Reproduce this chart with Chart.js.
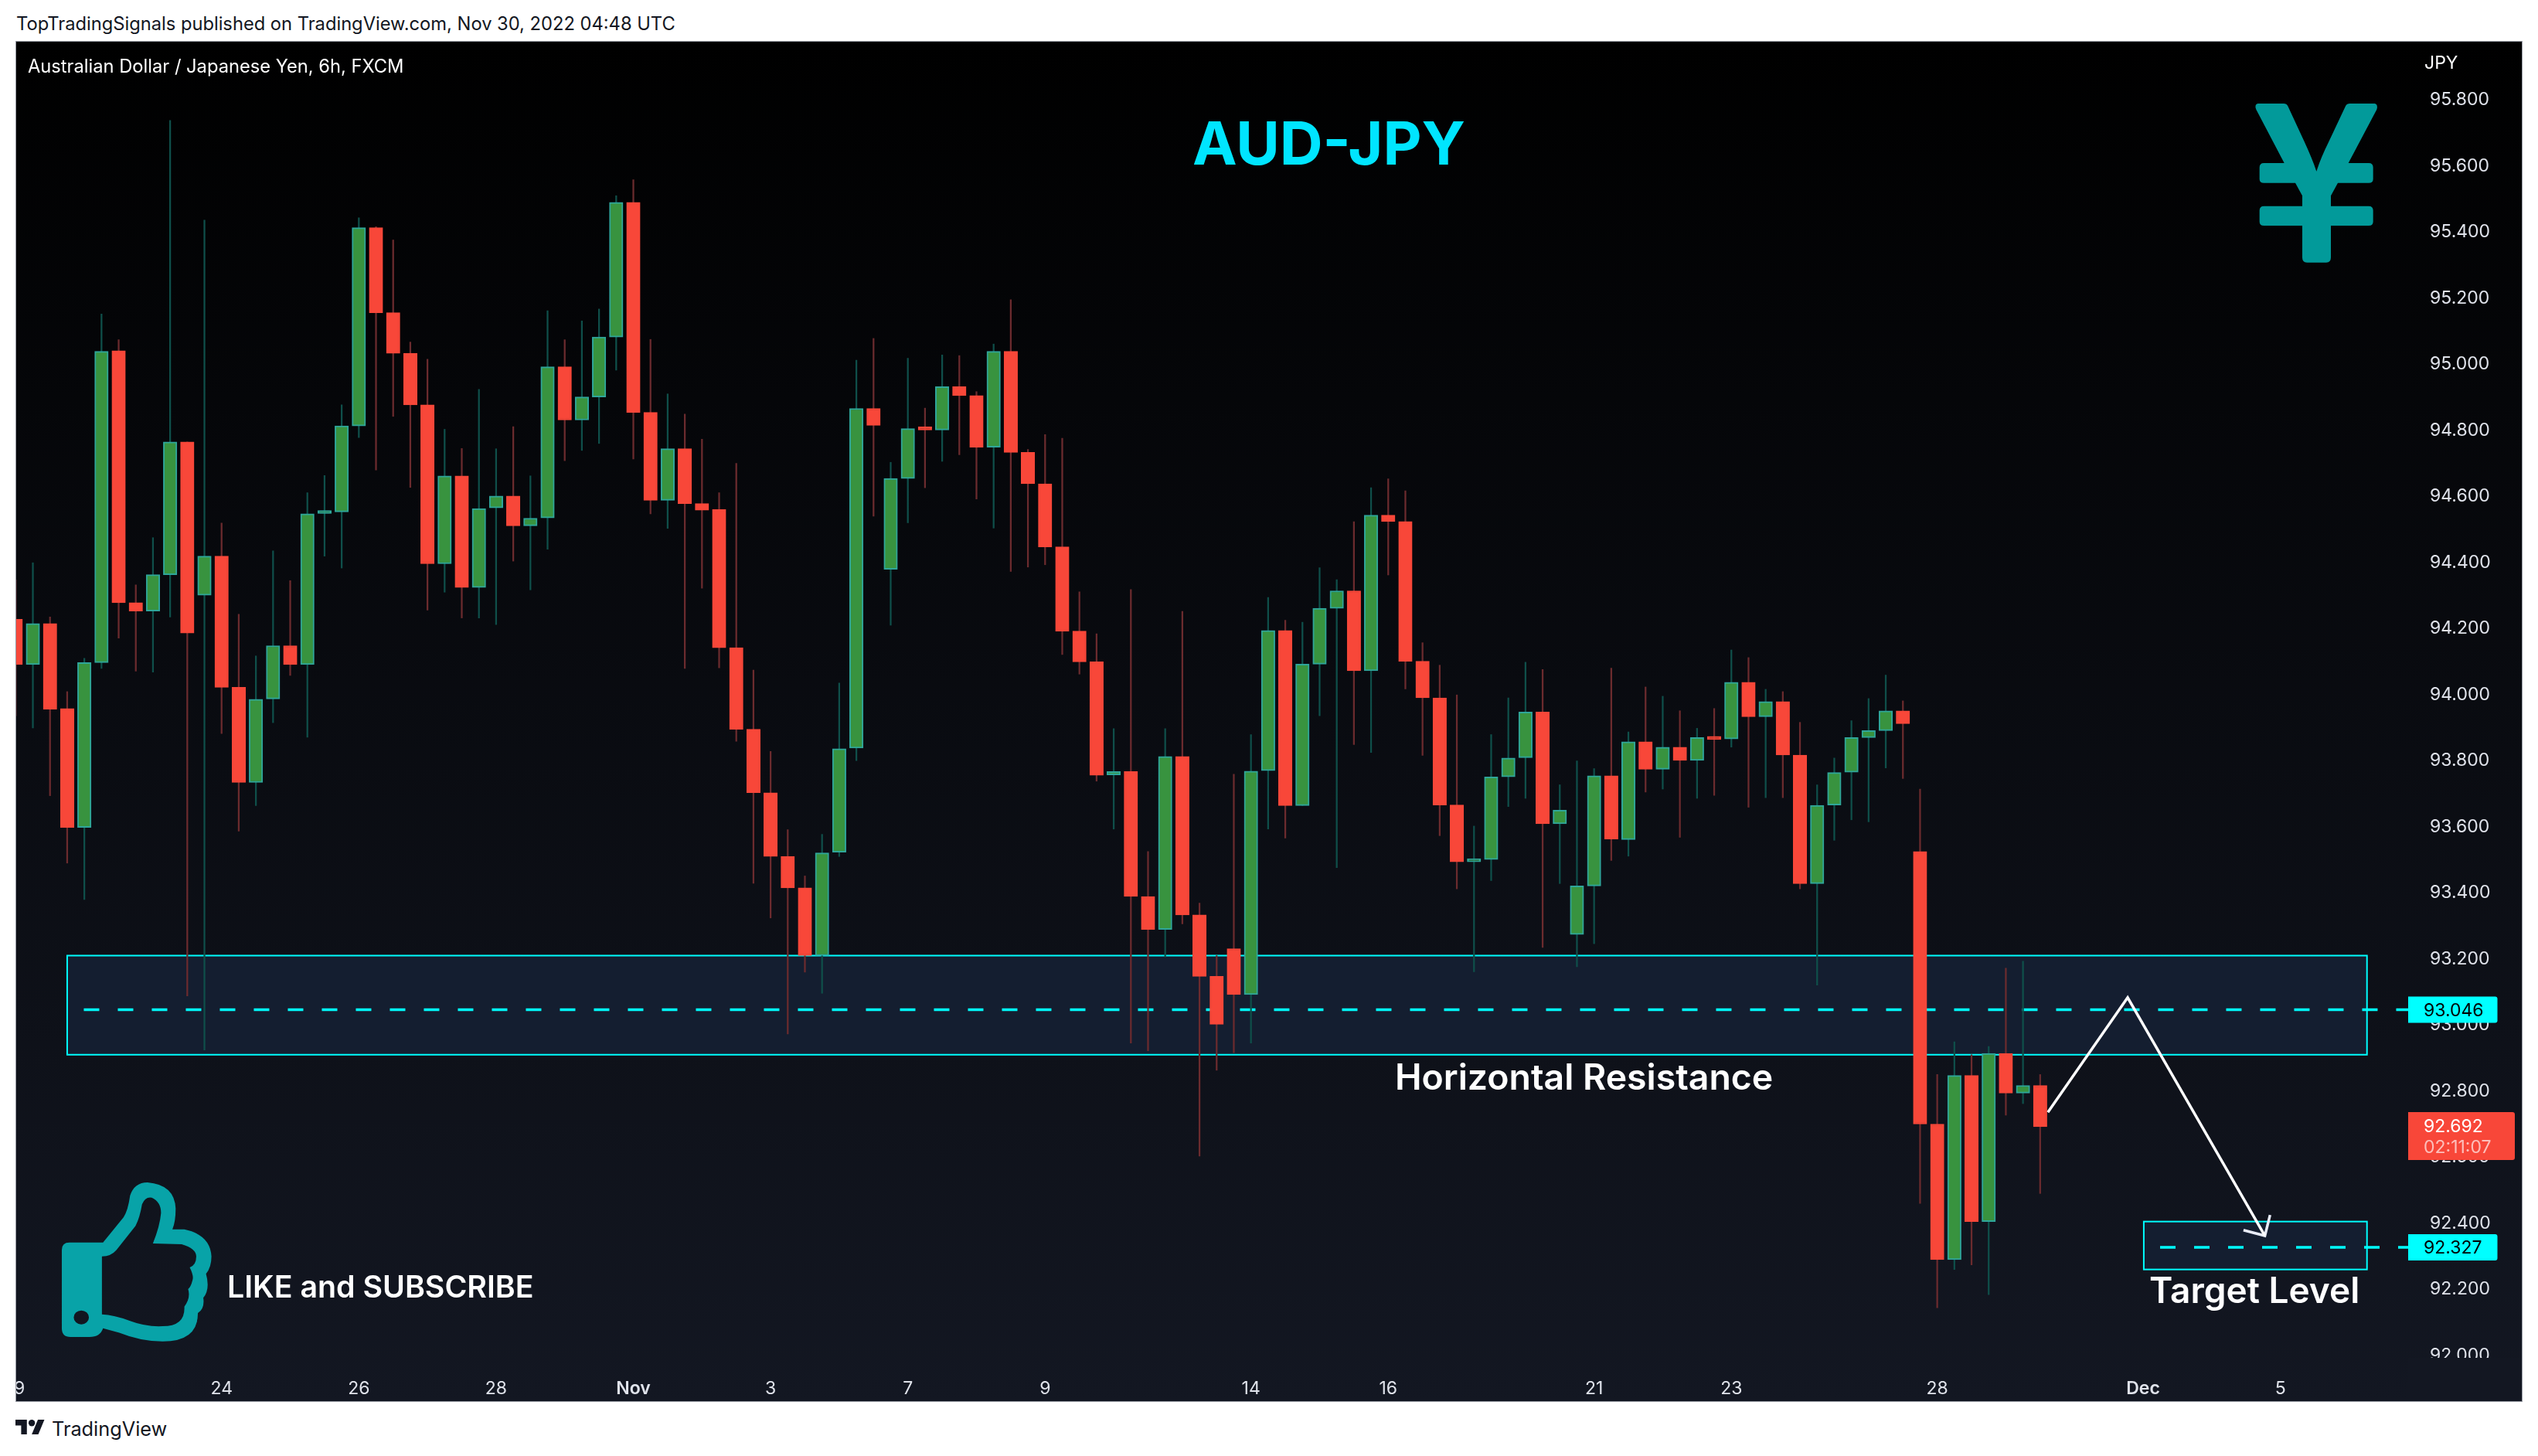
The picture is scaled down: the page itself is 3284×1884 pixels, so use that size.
<!DOCTYPE html>
<html lang="en">
<head>
  <meta charset="UTF-8" />
  <title>AUD-JPY</title>
  <script src="https://cdn.jsdelivr.net/npm/chart.js"></script>
  <style>
    html, body { margin: 0; padding: 0; background: #fff; }
    body { width: 3284px; height: 1884px; position: relative; overflow: hidden; font-family: Inter, sans-serif; }
    #frame { position: absolute; left: 20px; top: 53px; width: 3242px; height: 1759px; border: 1px solid #9598a1;
      background: linear-gradient(#000000, #131722); }
    canvas { position: absolute; left: 21px; top: 54px; }
    .txt { position: absolute; white-space: nowrap; transform: translateY(-50%); line-height: 1; }
    svg { position: absolute; }
  </style>
</head>
<body>
  <div id="frame"></div>
  <canvas id="chart" width="3241" height="1758"></canvas>

  <div class="txt" style="left:21px;top:31px;font-size:23.7px;color:#131722">TopTradingSignals published on TradingView.com, Nov 30, 2022 04:48 UTC</div>
  <div class="txt" style="left:36px;top:86px;font-size:23.7px;color:#fff">Australian Dollar / Japanese Yen, 6h, FXCM</div>
  <div class="txt" style="left:3137px;top:81px;font-size:23px;color:#fff">JPY</div>
  <div class="txt" style="left:1543px;top:186px;font-size:77.3px;font-weight:700;color:#00e5ff">AUD-JPY</div>
  <div class="txt" style="left:1805px;top:1393px;font-size:46.4px;font-weight:600;color:#fff">Horizontal Resistance</div>
  <div class="txt" style="left:2781px;top:1669px;font-size:46px;font-weight:600;color:#fff">Target Level</div>
  <div class="txt" style="left:294px;top:1665px;font-size:39.3px;font-weight:600;color:#fff">LIKE and SUBSCRIBE</div>
  <div class="txt" style="left:67px;top:1849px;font-size:25.3px;color:#131722">TradingView</div>

  <!-- yen sign -->
  <svg style="left:2800px;top:40px" width="484" height="400" viewBox="0 0 1452 1200">
    <path fill="#029a9a" d="M365 282 L465 282 Q476 282 481 292 L545 430 Q575 495 592 545 Q610 490 640 430 L705 292 Q710 282 722 282 L818 282 Q832 285 826 305 L716 513 L795 513 Q812 513 812 530 L812 575 Q812 590 795 590 L675 590 L648 640 L648 680 L795 680 Q812 680 812 697 L812 740 Q812 756 795 756 L648 756 L648 880 Q648 899 630 899 L555 899 Q537 899 537 880 L537 756 L388 756 Q371 756 371 740 L371 697 Q371 680 388 680 L537 680 L537 640 L510 590 L388 590 Q371 590 371 575 L371 530 Q371 513 388 513 L467 513 L358 305 Q350 285 365 282 Z"/>
  </svg>
  <!-- thumb -->
  <svg style="left:0;top:1000px" width="1100" height="884" viewBox="0 0 1568 1568" preserveAspectRatio="none">
    <path fill="#08a3a8" fill-rule="evenodd" d="M128 1078 L190 1078 L228 1020 Q236 1005 240 970 Q248 940 272 940 Q322 945 324 1000 Q324 1030 318 1048 L340 1048 Q388 1060 390 1110 Q390 1135 380 1150 Q388 1185 375 1205 Q378 1230 365 1240 Q365 1305 300 1305 Q260 1305 220 1285 L190 1275 Q185 1295 165 1295 L130 1295 Q114 1295 114 1275 L114 1095 Q114 1078 128 1078 Z
      M188 1110 Q205 1110 215 1095 L250 1040 Q258 1020 262 990 Q268 972 280 975 Q297 985 297 1010 Q295 1040 282 1080 L335 1082 Q362 1092 362 1110 Q362 1130 350 1135 Q358 1155 355 1165 Q352 1180 347 1185 Q352 1205 340 1225 Q342 1270 300 1270 Q270 1272 240 1258 Q210 1244 188 1243 Z
      M136 1250 A14 16 0 1 0 164 1250 A14 16 0 1 0 136 1250 Z"/>
  </svg>
  <!-- tradingview mark -->
  <svg style="left:20px;top:1837px" width="38" height="19" viewBox="0 4 36 18">
    <path fill="#131722" d="M14 22H7V11H0V4h14v18z M28 22h-8l7.5-18h8L28 22z"/>
    <circle fill="#131722" cx="20" cy="8" r="4"/>
  </svg>

  <script>
    const opens = [94.228,94.091,94.215,93.958,93.598,94.097,95.041,94.278,94.253,94.363,94.765,94.301,94.419,94.022,93.734,93.987,94.148,94.091,94.548,94.553,94.813,95.413,95.156,95.033,94.877,94.396,94.662,94.324,94.565,94.601,94.511,94.535,94.992,94.831,94.901,95.082,95.490,94.854,94.588,94.744,94.578,94.560,94.142,93.895,93.703,93.510,93.415,93.210,93.523,93.838,94.866,94.379,94.654,94.805,94.801,94.932,94.905,94.749,95.039,94.733,94.638,94.447,94.192,94.099,93.757,93.767,93.389,93.289,93.813,93.333,93.147,93.231,93.092,93.770,94.194,93.664,94.092,94.261,94.314,94.072,94.543,94.524,94.101,93.990,93.666,93.494,93.501,93.751,93.809,93.947,93.609,93.274,93.421,93.754,93.561,93.857,93.774,93.841,93.801,93.870,93.866,94.037,93.933,93.979,93.817,93.428,93.666,93.765,93.870,93.891,93.951,93.525,92.700,92.290,92.847,92.405,92.914,92.794,92.817];
    const closes = [94.091,94.215,93.956,93.598,94.097,95.039,94.278,94.253,94.363,94.765,94.186,94.419,94.022,93.734,93.986,94.148,94.091,94.547,94.553,94.813,95.413,95.156,95.033,94.877,94.396,94.662,94.324,94.563,94.601,94.511,94.534,94.992,94.831,94.901,95.082,95.490,94.854,94.588,94.744,94.578,94.558,94.142,93.895,93.703,93.510,93.415,93.210,93.521,93.836,94.866,94.815,94.654,94.805,94.801,94.932,94.905,94.749,95.039,94.733,94.638,94.447,94.192,94.099,93.756,93.767,93.389,93.289,93.813,93.333,93.147,93.002,93.092,93.768,94.194,93.664,94.092,94.261,94.314,94.072,94.543,94.524,94.101,93.990,93.666,93.494,93.500,93.751,93.808,93.947,93.609,93.650,93.421,93.754,93.563,93.857,93.774,93.841,93.801,93.870,93.864,94.037,93.933,93.979,93.817,93.428,93.665,93.764,93.870,93.891,93.951,93.912,92.700,92.290,92.847,92.405,92.914,92.794,92.817,92.692];
    const highs = [94.347,94.399,94.235,94.009,94.110,95.152,95.074,94.332,94.475,95.738,94.765,95.436,94.519,94.243,94.117,94.435,94.345,94.611,94.663,94.877,95.443,95.416,95.376,95.067,95.015,94.803,94.745,94.924,94.744,94.811,94.662,95.162,95.074,95.131,95.167,95.510,95.558,95.075,94.910,94.849,94.773,94.611,94.700,94.074,93.828,93.591,93.451,93.577,94.035,95.012,95.078,94.703,95.018,94.867,95.028,95.026,94.917,95.061,95.195,94.742,94.787,94.776,94.311,94.184,93.897,94.318,93.525,93.897,94.252,93.369,93.210,93.759,93.879,94.294,94.225,94.219,94.384,94.348,94.523,94.626,94.653,94.617,94.157,94.089,93.999,93.602,93.879,93.990,94.098,94.076,93.727,93.799,93.776,94.080,93.887,94.023,93.995,93.951,93.898,93.958,94.135,94.112,94.016,94.009,93.916,93.727,93.808,93.921,93.988,94.059,93.981,93.714,92.850,92.949,92.910,92.935,93.172,93.193,92.850];
    const lows = [93.936,93.899,93.694,93.490,93.380,94.079,94.171,94.071,94.068,94.235,93.088,92.924,93.882,93.587,93.664,93.915,94.058,93.871,94.419,94.383,94.778,94.680,94.842,94.627,94.256,94.310,94.232,94.232,94.212,94.404,94.317,94.440,94.708,94.739,94.760,94.982,94.713,94.547,94.503,94.079,94.322,94.081,93.859,93.429,93.324,92.973,93.160,93.096,93.510,93.800,94.540,94.210,94.520,94.626,94.706,94.726,94.592,94.504,94.373,94.386,94.393,94.121,94.062,93.738,93.593,92.945,92.922,93.206,93.306,92.603,92.863,92.916,92.945,93.593,93.566,93.664,93.936,93.476,93.849,93.825,94.362,94.017,93.816,93.573,93.412,93.161,93.437,93.661,93.686,93.235,93.428,93.176,93.246,93.498,93.511,93.705,93.714,93.568,93.686,93.695,93.841,93.659,93.688,93.688,93.412,93.121,93.559,93.621,93.615,93.778,93.746,92.460,92.144,92.260,92.274,92.184,92.727,92.762,92.490];

    const tickIndex = [0, 12, 20, 28, 36, 44, 52, 60, 72, 80, 92, 100, 112, 124, 132];
    const tickLabels = ['19', '24', '26', '28', 'Nov', '3', '7', '9', '14', '16', '21', '23', '28', 'Dec', '5'];
    const priceTicks = [92.0, 92.2, 92.4, 92.6, 92.8, 93.0, 93.2, 93.4, 93.6, 93.8, 94.0, 94.2, 94.4, 94.6, 94.8, 95.0, 95.2, 95.4, 95.6, 95.8];

    // zones and levels drawn on the chart
    const zoneFrom = [3.0, 124.04];
    const zoneTo = [137.05, 137.05];
    const zoneTop = [93.21, 92.405];
    const zoneBottom = [92.91, 92.26];
    const levelPrice = [93.046, 92.327];
    const levelFrom = [3.97, 124.99];
    const lastPrice = 92.692;
    const countdown = '02:11:07';
    const arrowX = [118.45, 123.1, 131.1];
    const arrowY = [92.736, 93.083, 92.362];
    const headX = [129.85, 131.1, 131.4];
    const headY = [92.379, 92.362, 92.425];

    const RED = '#f84739', GREEN = '#38933f', TEAL = '#2fa69a';
    const isUp = i => closes[i] >= opens[i];
    const idx = opens.map((v, i) => i);

    const zonePlugin = {
      id: 'zones',
      beforeDatasetsDraw(chart) {
        const { ctx, scales: { x, y } } = chart;
        ctx.save();
        zoneFrom.forEach((from, i) => {
          const l = x.getPixelForValue(from), r = x.getPixelForValue(zoneTo[i]);
          const t = y.getPixelForValue(zoneTop[i]), b = y.getPixelForValue(zoneBottom[i]);
          ctx.fillStyle = '#141e30';
          ctx.fillRect(l, t, r - l, b - t);
          ctx.strokeStyle = '#00ffff';
          ctx.lineWidth = 2;
          ctx.strokeRect(l, t, r - l, b - t);
        });
        ctx.restore();
      }
    };

    const labelPlugin = {
      id: 'priceLabels',
      afterDraw(chart) {
        const { ctx, chartArea, scales: { y } } = chart;
        const left = chartArea.right, textX = left + 20;
        ctx.save();
        // axis is cut off above the time scale
        ctx.fillStyle = '#131722';
        ctx.fillRect(left, chartArea.bottom, 146, chart.height - chartArea.bottom);
        ctx.font = '23px Inter';
        ctx.textBaseline = 'middle';
        levelPrice.forEach(p => {
          const py = y.getPixelForValue(p);
          ctx.fillStyle = '#00ffff';
          ctx.beginPath();
          ctx.roundRect(left, py - 17, 115.5, 34, [0, 3, 3, 0]);
          ctx.fill();
          ctx.fillStyle = '#000';
          ctx.fillText(p.toFixed(3), textX, py + 1);
        });
        const py = y.getPixelForValue(lastPrice);
        ctx.fillStyle = RED;
        ctx.beginPath();
        ctx.roundRect(left, py - 19, 138, 62, [0, 3, 3, 0]);
        ctx.fill();
        ctx.fillStyle = '#fff';
        ctx.fillText(lastPrice.toFixed(3), textX, py);
        ctx.fillStyle = 'rgba(255,255,255,0.65)';
        ctx.fillText(countdown, textX, py + 27);
        ctx.restore();
      }
    };

    const isMonth = v => (tickLabels[tickIndex.indexOf(v)] || '').length === 3;

    new Chart(document.getElementById('chart'), {
      data: {
        datasets: [
          {
            type: 'line', order: 0,
            data: arrowX.map((v, i) => ({ x: v, y: arrowY[i] })),
            borderColor: '#ffffff', borderWidth: 3.5, pointRadius: 0, tension: 0
          },
          {
            type: 'line', order: 0,
            data: headX.map((v, i) => ({ x: v, y: headY[i] })),
            borderColor: '#e8ecf8', borderWidth: 3.5, pointRadius: 0, tension: 0
          },
          {
            type: 'bar', order: 1, grouped: false,
            data: idx.map(i => ({ x: i, y: [opens[i], closes[i]] })),
            backgroundColor: idx.map(i => isUp(i) ? GREEN : RED),
            borderColor: idx.map(i => isUp(i) ? TEAL : RED),
            borderWidth: 2, borderSkipped: false, barThickness: 17.5, minBarLength: 4
          },
          {
            type: 'bar', order: 2, grouped: false,
            data: idx.map(i => ({ x: i, y: [lows[i], highs[i]] })),
            backgroundColor: idx.map(i => isUp(i) ? '#0f4f4a' : '#6b2b2e'),
            barThickness: 1.6
          },
          {
            type: 'line', order: 3,
            data: [{ x: levelFrom[0], y: levelPrice[0] }, { x: 139.45, y: levelPrice[0] }],
            borderColor: '#00ffff', borderWidth: 3.5, borderDash: [20, 24], pointRadius: 0
          },
          {
            type: 'line', order: 3,
            data: [{ x: levelFrom[1], y: levelPrice[1] }, { x: 139.45, y: levelPrice[1] }],
            borderColor: '#00ffff', borderWidth: 3.5, borderDash: [20, 24], pointRadius: 0
          }
        ]
      },
      options: {
        responsive: false,
        devicePixelRatio: 1,
        animation: false,
        layout: { padding: 0 },
        plugins: { legend: { display: false }, tooltip: { enabled: false } },
        scales: {
          x: {
            type: 'linear', min: 0.03, max: 139.45, offset: false,
            grid: { display: false }, border: { display: false },
            afterBuildTicks(axis) { axis.ticks = tickIndex.map(v => ({ value: v })); },
            afterFit(axis) { axis.paddingLeft = 0; axis.paddingRight = 0; axis.height = 55; },
            ticks: {
              autoSkip: false, maxRotation: 0, minRotation: 0, padding: 18, color: '#e0e3eb',
              font: ctx => ({ family: 'Inter', size: 23, weight: ctx.tick && isMonth(ctx.tick.value) ? '600' : '400' }),
              callback: v => tickLabels[tickIndex.indexOf(v)]
            }
          },
          y: {
            type: 'linear', position: 'right', min: 91.9925, max: 95.976,
            grid: { display: false }, border: { display: false },
            afterBuildTicks(axis) { axis.ticks = priceTicks.map(v => ({ value: v })); },
            afterFit(axis) { axis.paddingTop = 0; axis.paddingBottom = 0; axis.width = 146; },
            ticks: {
              autoSkip: false, padding: 20, color: '#e0e3eb',
              font: { family: 'Inter', size: 23 },
              callback: v => v.toFixed(3)
            }
          }
        }
      },
      plugins: [zonePlugin, labelPlugin]
    });
  </script>
</body>
</html>
